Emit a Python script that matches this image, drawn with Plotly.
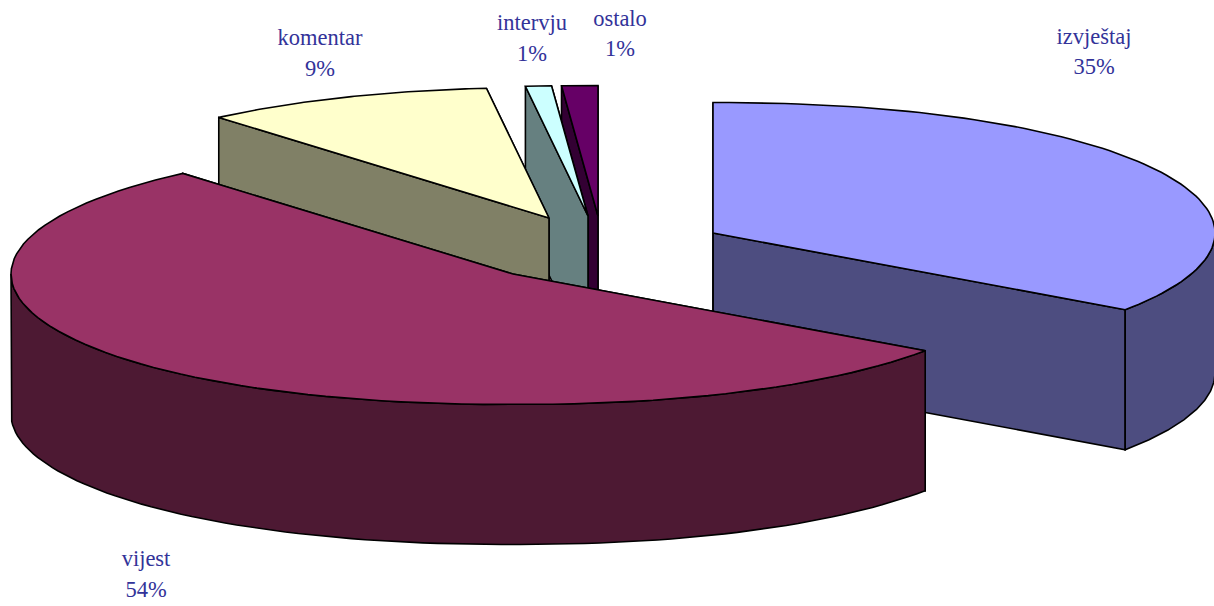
import numpy as np
import plotly.graph_objects as go

# --- data -------------------------------------------------------------
categories = ["izvještaj", "vijest", "komentar", "intervju", "ostalo"]
values = [35.0, 54.0, 9.3, 0.75, 0.95]
percent_labels = ["35%", "54%", "9%", "1%", "1%"]

# --- styles / layout --------------------------------------------------
top_colors = ["#9999FF", "#993366", "#FFFFCC", "#CCFFFF", "#660066"]
side_colors = ["#4D4D80", "#4D1933", "#808066", "#668080", "#330033"]
apex_x = [713, 513, 549, 588, 598]
apex_y = [233, 274, 218, 216, 216]
label_x = [1094, 146, 320, 532, 620]
name_y = [38, 560, 39, 24, 20]
pct_y = [68, 591, 70, 55, 50]
draw_order = [0, 4, 3, 2, 1]
RX, RY, DEPTH = 502, 130.5, 140
BULGE = 0.93  # outline slightly fuller than a true ellipse, sideways
W, H = 1214, 606
LINE = dict(color="#000000", width=1.6)
TEXT_COLOR = "#333399"
FONT = "Liberation Serif"

cum = np.concatenate([[0.0], np.cumsum(values)])
angles = cum / cum[-1] * 2 * np.pi  # clockwise from the top


def ring(i, a):
    s, c = np.sin(a), np.cos(a)
    return (apex_x[i] + RX * np.sign(s) * np.abs(s) ** BULGE,
            apex_y[i] - RY * c)


def poly(xs, ys, color):
    xs = list(xs) + [xs[0]]
    ys = list(ys) + [ys[0]]
    return go.Scatter(x=xs, y=ys, mode="lines", fill="toself", fillcolor=color,
                      line=LINE, hoverinfo="skip", showlegend=False, cliponaxis=False)


fig = go.Figure()
for i in draw_order:
    a0, a1 = angles[i], angles[i + 1]
    ax, ay = apex_x[i], apex_y[i]
    arc = np.linspace(a0, a1, 90)
    x_arc, y_arc = ring(i, arc)

    # both flat cut faces (later faces paint over hidden parts)
    for a in (a1, a0):
        ex, ey = ring(i, a)
        fig.add_trace(poly([ax, ex, ex, ax], [ay, ey, ey + DEPTH, ay + DEPTH], side_colors[i]))

    # outer rim, only the part turned toward the viewer
    lo, hi = max(a0, np.pi / 2), min(a1, 3 * np.pi / 2)
    if lo < hi:
        rim = np.linspace(lo, hi, 90)
        xr, yr = ring(i, rim)
        fig.add_trace(poly(np.r_[xr, xr[::-1]], np.r_[yr, yr[::-1] + DEPTH], side_colors[i]))

    # top face
    fig.add_trace(poly(np.r_[ax, x_arc], np.r_[ay, y_arc], top_colors[i]))

fig.add_trace(go.Scatter(
    x=label_x + label_x,
    y=name_y + pct_y,
    text=categories + percent_labels,
    mode="text",
    textposition="middle center",
    textfont=dict(family=FONT, size=22.5, color=TEXT_COLOR),
    hoverinfo="skip",
    showlegend=False,
    cliponaxis=False,
))

fig.update_layout(
    width=W, height=H,
    margin=dict(l=0, r=0, t=0, b=0),
    paper_bgcolor="#FFFFFF", plot_bgcolor="#FFFFFF",
    xaxis=dict(range=[0, W], visible=False, fixedrange=True),
    yaxis=dict(range=[H, 0], visible=False, fixedrange=True),
    showlegend=False,
)
fig.write_html(
    "out.html",
    config={"displayModeBar": False},
    post_script="document.body.style.margin='0';document.body.style.overflow='hidden';",
)
